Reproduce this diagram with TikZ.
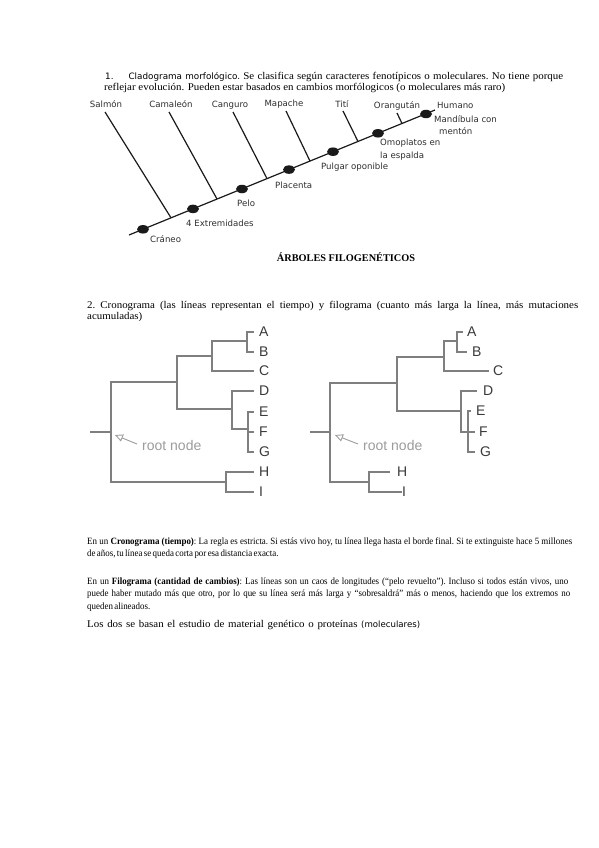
\documentclass[tikz,border=0pt]{standalone}
\usepackage{fontspec}
\setmainfont{Liberation Serif}
\newfontfamily\clsans{DejaVu Sans}
\newfontfamily\trsans{Liberation Sans}
\newfontfamily\hdser[FakeStretch=1.06]{Liberation Serif}
\newfontfamily\cdser[FakeStretch=0.93]{Liberation Serif}
\usetikzlibrary{arrows.meta,shapes.geometric,calc}
\definecolor{trgray}{HTML}{7F7F7F}
\definecolor{trtext}{HTML}{3A3A3A}
\definecolor{rootgray}{HTML}{9C9C9C}
\definecolor{cltext}{HTML}{2E2E2E}
\definecolor{clline}{HTML}{1A1A1A}
\newcommand\hdsize{\fontsize{10.3}{12}\selectfont}
\newcommand\cdsize{\fontsize{9.6}{11}\selectfont}
\newcommand\fillsp{\frenchspacing\spaceskip=0.22em plus 1fil\relax}
\newcommand\tightsp{\frenchspacing\spaceskip=0.14em plus 1fil\relax}
\begin{document}
\begin{tikzpicture}[x=1pt,y=-1pt,
  txt/.style={anchor=base west,inner sep=0pt,text=black},
  clab/.style={inner sep=0pt,text=cltext,font=\clsans\fontsize{8.6}{10}\selectfont},
  clbranch/.style={draw=clline,line width=1.2pt},
  cldot/.style={fill=clline,draw=none,ellipse,minimum width=12pt,minimum height=8.5pt,inner sep=0pt},
  trline/.style={draw=trgray,line width=1.1pt},
  trlab/.style={anchor=west,inner sep=0pt,text=trtext,font=\trsans\fontsize{14}{14}\selectfont},
  rootlab/.style={anchor=west,inner sep=0pt,text=rootgray,font=\trsans\fontsize{14}{14}\selectfont},
  rootarr/.style={draw=rootgray,line width=0.9pt,-{Triangle[open,length=8pt,width=7.5pt]}}]
\useasboundingbox[fill=white] (0,0) rectangle (599,848);

% ---------- heading ----------
\node[txt] (h1) at (105,80) {\hbox to 458pt{\hdsize\fillsp{\clsans\fontsize{8.8}{11}\selectfont 1.\hskip 15pt Cladograma morfológico.} \hdser Se clasifica según caracteres fenotípicos o moleculares. No tiene porque}};
\node[txt] (h2) at (104,91) {\hdsize\hdser reflejar evolución. Pueden estar basados en cambios morfólogicos (o moleculares más raro)};

% ---------- cladogram ----------
\coordinate (m0) at (129,235);
\coordinate (m1) at (435,110);
\draw[clbranch] (m0) -- (m1);
\coordinate (b1) at (171,217.8);
\coordinate (b2) at (217,199.0);
\coordinate (b3) at (267,178.6);
\coordinate (b4) at (310,161.1);
\coordinate (b5) at (358,141.5);
\coordinate (b6) at (402,123.5);
\coordinate (t1) at (105,112);
\coordinate (t2) at (169,112);
\coordinate (t3) at (233,112);
\coordinate (t4) at (286,111);
\coordinate (t5) at (343,111);
\coordinate (t6) at (397,113);
\foreach \i in {1,...,6} {\draw[clbranch] (t\i) -- (b\i);}
\node[cldot] (d1) at (143,229.3) {};
\node[cldot] (d2) at (193,208.9) {};
\node[cldot] (d3) at (242,189.0) {};
\node[cldot] (d4) at (289,169.6) {};
\node[cldot] (d5) at (333,151.7) {};
\node[cldot] (d6) at (378,133.3) {};
\node[cldot] (d7) at (426,114.0) {};

\node[clab,anchor=base] (salmon) at (106,108) {Salmón};
\node[clab,anchor=base] (camaleon) at (171,108) {Camaleón};
\node[clab,anchor=base] (canguro) at (230,108) {Canguro};
\node[clab,anchor=base] (mapache) at (284,107) {Mapache};
\node[clab,anchor=base] (titi) at (342,108) {Tití};
\node[clab,anchor=base] (orangutan) at (397,109) {Orangután};
\node[clab,anchor=base west] (humano) at (437,109) {Humano};
\node[clab,anchor=base west] (mand1) at (434,123) {Mandíbula con};
\node[clab,anchor=base west] (mand2) at (439,135) {mentón};
\node[clab,anchor=base west] (omo1) at (380,146) {Omoplatos en};
\node[clab,anchor=base west] (omo2) at (380,158) {la espalda};
\node[clab,anchor=base west] (pulgar) at (321,169) {Pulgar oponible};
\node[clab,anchor=base west] (placenta) at (275,188) {Placenta};
\node[clab,anchor=base west] (pelo) at (237,206) {Pelo};
\node[clab,anchor=base west] (extrem) at (186,226) {4 Extremidades};
\node[clab,anchor=base west] (craneo) at (150,242) {Cráneo};

\node[anchor=base,inner sep=0pt,font=\bfseries\fontsize{10.3}{12}\selectfont] (titulo) at (346,261) {ÁRBOLES FILOGENÉTICOS};

% ---------- section 2 ----------
\node[txt] (s1) at (87,308) {\hbox to 491pt{\hdsize\hdser\fillsp 2. Cronograma (las líneas representan el tiempo) y filograma (cuanto más larga la línea, más mutaciones}};
\node[txt] (s2) at (87,319) {\hdsize\hdser acumuladas)};

% ---------- cronograma (left tree) ----------
\coordinate (Ls) at (90,432);
\coordinate (Lr) at (111,432);
\draw[trline] (Ls) -- (Lr);
\draw[trline] (177,382) -| (111,482) -- (226,482);
\draw[trline] (212,356) -| (177,409) -- (232,409);
\draw[trline] (247,341) -| (212,371) -- (254,371);
\draw[trline] (254,332) -| (247,352) -- (254,352);
\draw[trline] (254,391) -| (232,429) -- (248,429);
\draw[trline] (254,412) -| (248,452) -- (254,452);
\draw[trline] (248,432) -- (254,432);
\draw[trline] (254,472) -| (226,492) -- (254,492);
\node[trlab] (LA) at (259,332) {A};
\node[trlab] (LB) at (259,352) {B};
\node[trlab] (LC) at (259,371) {C};
\node[trlab] (LD) at (259,391) {D};
\node[trlab] (LE) at (259,412) {E};
\node[trlab] (LF) at (259,432) {F};
\node[trlab] (LG) at (259,452) {G};
\node[trlab] (LH) at (259,472) {H};
\node[trlab] (LI) at (259,492) {I};
\coordinate (Lat) at (137,444);
\coordinate (Lah) at (115,435);
\draw[rootarr] (Lat) -- (Lah);
\node[rootlab] (Lroot) at (142,445) {root node};

% ---------- filograma (right tree) ----------
\coordinate (Rs) at (310,432);
\coordinate (Rr) at (330,432);
\draw[trline] (Rs) -- (Rr);
\draw[trline] (397,383) -| (330,482) -- (369,482);
\draw[trline] (444,357) -| (397,411) -- (461,411);
\draw[trline] (457,341) -| (444,371) -- (489,371);
\draw[trline] (463,332) -| (457,352) -- (467,352);
\draw[trline] (477,391) -| (461,432) -- (475,432);
\draw[trline] (471,411) -| (468,452) -- (475,452);
\draw[trline] (390,472) -| (369,492) -- (402,492);
\node[trlab] (RA) at (467,332) {A};
\node[trlab] (RB) at (472,352) {B};
\node[trlab] (RC) at (493,371) {C};
\node[trlab] (RD) at (483,391) {D};
\node[trlab] (RE) at (476,411) {E};
\node[trlab] (RF) at (479,432) {F};
\node[trlab] (RG) at (480,452) {G};
\node[trlab] (RH) at (397,472) {H};
\node[trlab] (RI) at (402,492) {I};
\coordinate (Rat) at (358,444);
\coordinate (Rah) at (335,435);
\draw[rootarr] (Rat) -- (Rah);
\node[rootlab] (Rroot) at (363,445) {root node};

% ---------- paragraphs ----------
\node[txt] (p1a) at (87,544) {\hbox to 485pt{\cdsize\cdser\tightsp En un \textbf{Cronograma (tiempo)}: La regla es estricta. Si estás vivo hoy, tu línea llega hasta el borde final. Si te extinguiste hace 5 millones}};
\node[txt] (p1b) at (87,556) {\cdsize\cdser\tightsp de años, tu línea se queda corta por esa distancia exacta.};
\node[txt] (p2a) at (87,584) {\hbox to 481pt{\cdsize\cdser\tightsp En un \textbf{Filograma (cantidad de cambios)}: Las líneas son un caos de longitudes (“pelo revuelto”). Incluso si todos están vivos, uno}};
\node[txt] (p2b) at (87,596) {\hbox to 483pt{\cdsize\cdser\tightsp puede haber mutado más que otro, por lo que su línea será más larga y “sobresaldrá” más o menos, haciendo que los extremos no}};
\node[txt] (p2c) at (87,609) {\cdsize\cdser\tightsp queden alineados.};
\node[txt] (p3) at (87,627) {\hbox to 333pt{\hdsize\hdser\fillsp Los dos se basan el estudio de material genético o proteínas {\clsans\fontsize{8.6}{11}\selectfont(moleculares)}}};
\end{tikzpicture}
\end{document}
